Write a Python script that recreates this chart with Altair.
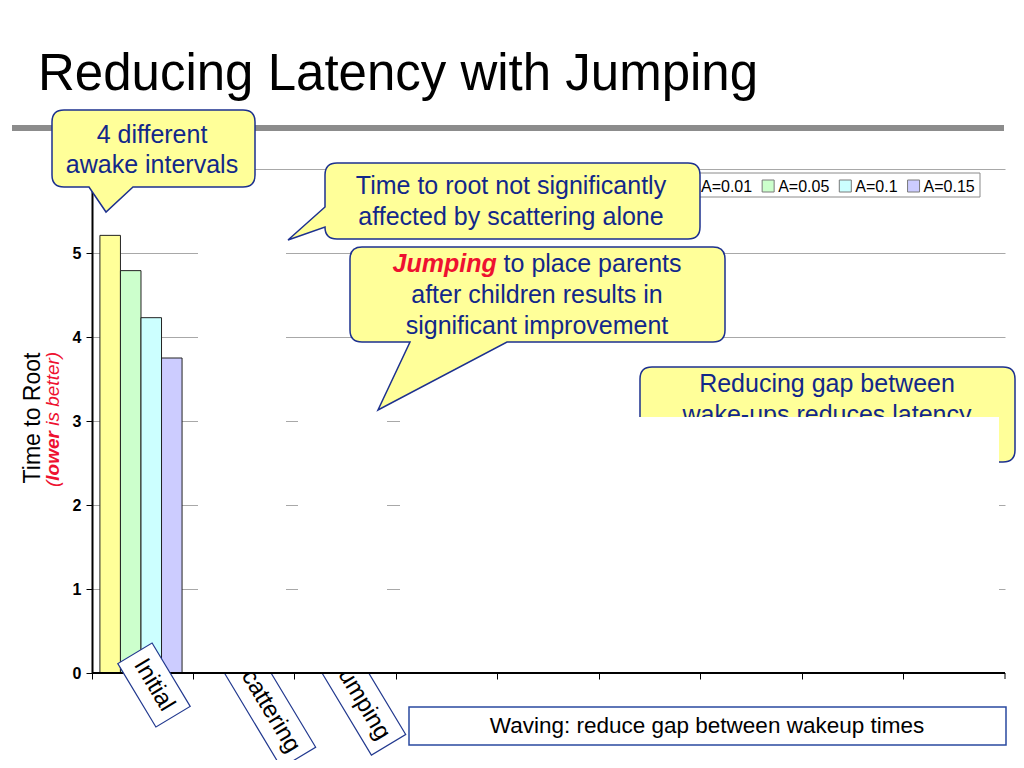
import altair as alt
import pandas as pd

# ---------------- data ----------------
categories = ["Initial", "Scattering", "Jumping", "Waving 1", "Waving 2",
              "Waving 3", "Waving 4", "Waving 5", "Waving 6"]
series = ["A=0.01", "A=0.05", "A=0.1", "A=0.15"]
initial_values = [5.21, 4.79, 4.23, 3.75]
colors = ["#FFFF99", "#CCFFCC", "#CCFFFF", "#CCCCFF"]
y_ticks = [0, 1, 2, 3, 4, 5, 6]

df = pd.DataFrame({"category": ["Initial"] * len(series),
                   "series": series, "value": initial_values})

# ---------------- layout helpers ----------------
W, H = 913, 504
OX, OY = 92, 169          # page position of the plot origin


def px(x):
    return x - OX


def py(y):
    return y - OY


FONT = "Liberation Sans"
NAVY = "#12288a"
BORDER = "#1d318f"
YELLOW = "#FFFF99"
RED = "#ee1130"
one = alt.Data(values=[{"k": 0}])


def text(t, x, y, size, color="black", weight="normal", style="normal",
         align="center", baseline="alphabetic", angle=0):
    return alt.Chart(one).mark_text(
        text=t, font=FONT, fontSize=size, color=color, fontWeight=weight,
        fontStyle=style, align=align, baseline=baseline, angle=angle
    ).encode(x=alt.value(px(x)), y=alt.value(py(y)))


def rect(x0, y0, x1, y1, fill, stroke=None, sw=1.0):
    kw = dict(fill=fill, opacity=1)
    if stroke:
        kw.update(stroke=stroke, strokeWidth=sw)
    return alt.Chart(one).mark_rect(**kw).encode(
        x=alt.value(px(x0)), x2=alt.value(px(x1)),
        y=alt.value(py(y0)), y2=alt.value(py(y1)))


def shape(path, x, y, fill, stroke, sw, angle=0):
    return alt.Chart(one).mark_point(
        shape=path, size=4, filled=True, fill=fill, stroke=stroke,
        strokeWidth=sw, opacity=1, angle=angle
    ).encode(x=alt.value(px(x)), y=alt.value(py(y)))


def callout(x0, y0, x1, y1, r=12, tail=None):
    w, h = x1 - x0, y1 - y0
    p = [f"M{r},0", f"L{w - r},0", f"Q{w},0 {w},{r}", f"L{w},{h - r}",
         f"Q{w},{h} {w - r},{h}"]
    if tail and tail[0] == "bottom":
        _, b1, b2, (tx, ty) = tail
        p += [f"L{b1 - x0},{h}", f"L{tx - x0},{ty - y0}", f"L{b2 - x0},{h}"]
    p += [f"L{r},{h}", f"Q0,{h} 0,{h - r}"]
    if tail and tail[0] == "left":
        _, b1, b2, (tx, ty) = tail
        p += [f"L0,{b1 - y0}", f"L{tx - x0},{ty - y0}", f"L0,{b2 - y0}"]
    p += [f"L0,{r}", f"Q0,0 {r},0", "Z"]
    return shape(" ".join(p), x0, y0, YELLOW, BORDER, 1.5)


def label_box(label, cx, cy, length, angle=59):
    half = length / 2
    path = f"M{-half},-20 L{half},-20 L{half},20 L{-half},20 Z"
    return [shape(path, cx, cy, "white", "#22398f", 1.2, angle),
            text(label, cx, cy, 24, "black", baseline="middle", angle=angle)]


# ---------------- bars + axes ----------------
bars = alt.Chart(df).mark_bar(stroke="#222222", strokeWidth=1).encode(
    x=alt.X("category:N",
            scale=alt.Scale(domain=categories, paddingInner=0, paddingOuter=0),
            axis=alt.Axis(title=None, labels=False, domain=False, ticks=True,
                          tickSize=6, tickColor="black", tickWidth=1,
                          bandPosition=0, grid=False)),
    xOffset=alt.XOffset("series:N",
                        scale=alt.Scale(domain=series, paddingInner=0,
                                        paddingOuter=0.47, align=0.41)),
    y=alt.Y("value:Q", scale=alt.Scale(domain=[0, 6], nice=False),
            axis=alt.Axis(title=None, values=y_ticks, format="d",
                          labelExpr="datum.value == 6 ? '' : datum.label",
                          grid=True, gridColor="#a8a8a8", gridWidth=1,
                          domainColor="black", domainWidth=2,
                          tickColor="black", tickSize=6, tickWidth=1,
                          labelFont=FONT, labelFontSize=16,
                          labelFontWeight="bold", labelColor="black",
                          labelPadding=5)),
    color=alt.Color("series:N", scale=alt.Scale(domain=series, range=colors),
                    legend=None),
)

# ---------------- slide title & separator ----------------
slide = [rect(12, 125, 1004, 131, "#8c8c8c"),
         text("Reducing Latency with Jumping", 38, 90, 51, "black",
              align="left")]

# ---------------- legend (drawn by hand so it can sit under a callout) -----
ARIAL_W = {"A": 667, "=": 584, "0": 556, ".": 278, "1": 556, "5": 556}


def tw(s, size):
    return sum(ARIAL_W.get(c, 556) for c in s) / 1000 * size


legend_layers = [rect(678, 173, 980, 197, "white", "#8a8a8a", 1)]
lx = 685
for s, c in zip(series, colors):
    legend_layers.append(rect(lx, 180, lx + 12, 192, c, "#7a7a7a", 1))
    legend_layers.append(text(s, lx + 16, 191.5, 16, "black", align="left"))
    lx += 16 + tw(s, 16) + 10

# ---------------- category label boxes ----------------
scatter_box = label_box("Scattering", 266.6, 704.4, 124)
jump_box = label_box("Jumping", 361, 699, 107)
initial_box = label_box("Initial", 154, 685, 74)

# ---------------- callouts ----------------
c4 = [callout(640, 367, 1015, 462),
      text("Reducing gap between", 827, 392, 25, NAVY),
      text("wake-ups reduces latency", 827, 423, 25, NAVY)]

masks = [rect(198, 229, 286, 673, "white"),
         rect(298, 380, 387, 673, "white"),
         rect(400, 417, 999, 673, "white")]

baseline = alt.Chart(one).mark_rule(color="black", strokeWidth=2).encode(
    x=alt.value(0), x2=alt.value(W), y=alt.datum(0))
last_tick = alt.Chart(one).mark_rule(color="black", strokeWidth=1).encode(
    x=alt.value(W), y=alt.value(H), y2=alt.value(H + 6))

c1 = [callout(52, 110, 255, 187, tail=("bottom", 133, 89, (106, 212))),
      text("4 different", 152, 143, 25, NAVY),
      text("awake intervals", 152, 173, 25, NAVY)]

c2 = [callout(325, 163, 700, 239, tail=("left", 227, 207, (288, 240))),
      text("Time to root not significantly", 511, 194, 25, NAVY),
      text("affected by scattering alone", 511, 225, 25, NAVY)]

c3 = [callout(350, 247, 725, 342, tail=("bottom", 507, 410, (378, 410))),
      text("Jumping", 496.7, 272, 25, RED, weight="bold", style="italic",
           align="right"),
      text("to place parents", 503.6, 272, 25, NAVY, align="left"),
      text("after children results in", 537, 303, 25, NAVY),
      text("significant improvement", 537, 334, 25, NAVY)]

waving = [rect(409, 707, 1006, 745, "white", "#2a4aa0", 1.5),
          text("Waving: reduce gap between wakeup times", 707, 726, 22.5,
               "black", baseline="middle")]

# ---------------- y title ----------------
y_title = [text("Time to Root", 40, 418, 23, "black", angle=270),
           text("(", 59, 487, 19, RED, style="italic", align="left",
                angle=270),
           text("lower", 59, 487 - 0.333 * 19, 19, RED, weight="bold",
                style="italic", align="left", angle=270),
           text("is better)", 59, 487 - 0.333 * 19 - 2.612 * 19 - 0.278 * 19,
                19, RED, style="italic", align="left", angle=270)]

layers = ([bars] + slide + legend_layers + scatter_box + jump_box + c4
          + masks + [baseline, last_tick] + initial_box + c1 + c2 + c3
          + waving + y_title)

chart = alt.layer(*layers).properties(
    width=W, height=H,
    padding={"left": OX - 8, "top": OY - 8, "right": 11, "bottom": 87},
    autosize=alt.AutoSizeParams(type="none"),
    background="white",
).configure_view(stroke=None)

chart.save("out.html", embed_options={"renderer": "svg", "actions": False})
